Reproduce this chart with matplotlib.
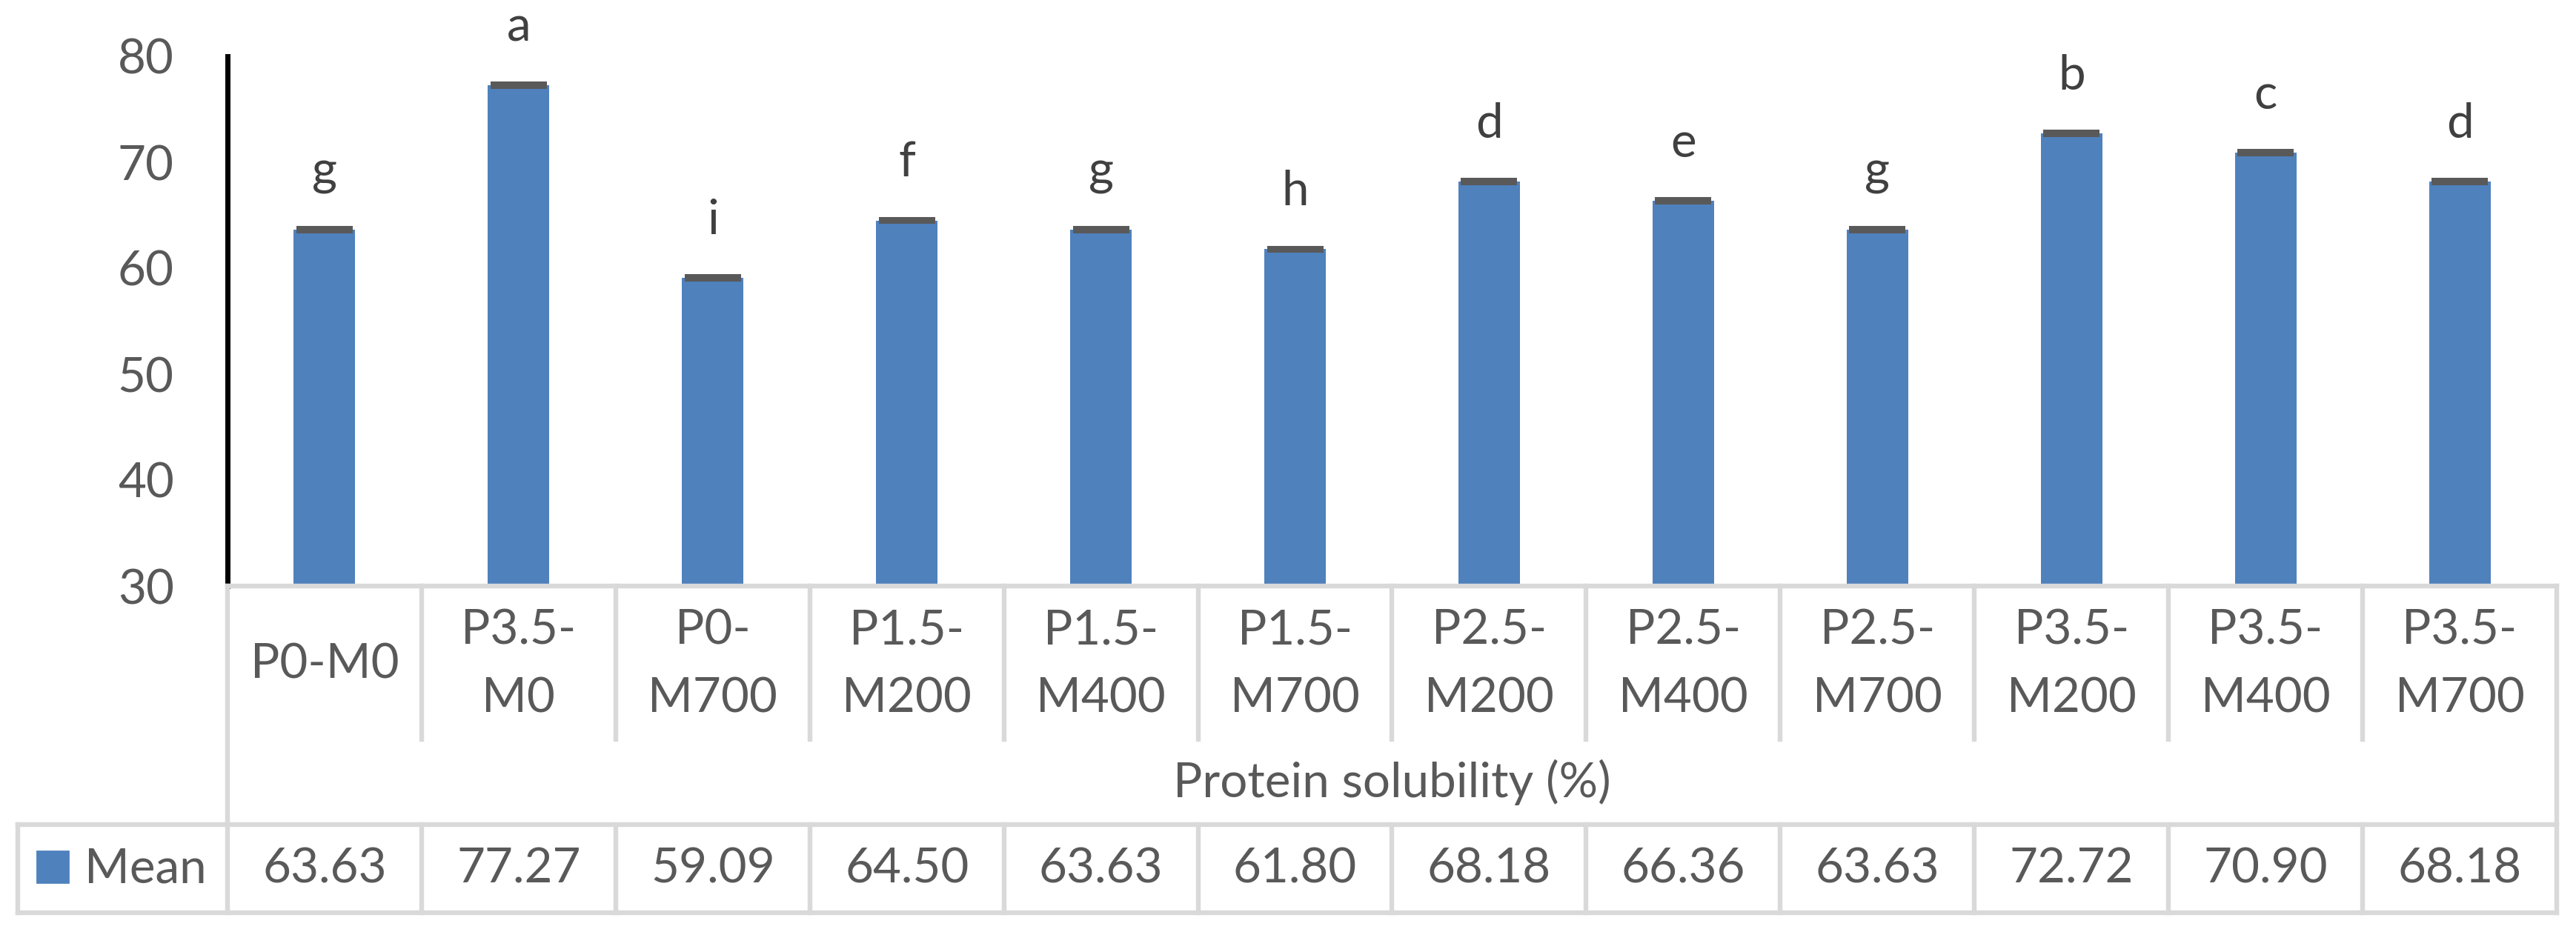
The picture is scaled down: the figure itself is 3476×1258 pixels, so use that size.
import matplotlib
matplotlib.use('Agg')
import matplotlib.pyplot as plt
import matplotlib.transforms as mtransforms
from matplotlib.lines import Line2D
from matplotlib.patches import Rectangle

plt.rcParams['font.family'] = ['Lato', 'DejaVu Sans']

# data
categories = ['P0-M0', 'P3.5-\nM0', 'P0-\nM700', 'P1.5-\nM200', 'P1.5-\nM400', 'P1.5-\nM700',
              'P2.5-\nM200', 'P2.5-\nM400', 'P2.5-\nM700', 'P3.5-\nM200', 'P3.5-\nM400', 'P3.5-\nM700']
means = [63.63, 77.27, 59.09, 64.50, 63.63, 61.80, 68.18, 66.36, 63.63, 72.72, 70.90, 68.18]
errors = [0.05, 0.05, 0.05, 0.05, 0.05, 0.05, 0.05, 0.05, 0.05, 0.05, 0.05, 0.05]
letters = ['g', 'a', 'i', 'f', 'g', 'h', 'd', 'e', 'g', 'b', 'c', 'd']
yticks = [30, 40, 50, 60, 70, 80]
series_name = 'Mean'
axis_title = 'Protein solubility (%)'

# styles
BAR = '#4F81BD'
TXT = '#595959'
LET = '#404040'
GRID = '#D9D9D9'
FS = 23.6
LW_GRID = 2.3

W, H = 3476, 1258
DPI = 200
fig = plt.figure(figsize=(W / DPI, H / DPI), dpi=DPI)


def fx(px):
    return px / W


def fy(py):
    return 1 - py / H


L, R = fx(307), fx(3450)
B, T = fy(791), fy(76)
ax = fig.add_axes([L, B, R - L, T - B])

x = list(range(len(means)))
ax.bar(x, means, width=0.317, color=BAR, zorder=2)
ax.errorbar(x, means, yerr=errors, fmt='none', ecolor=TXT, elinewidth=1,
            capsize=13.7, capthick=2.9, zorder=3)
for xi, m, l in zip(x, means, letters):
    ax.text(xi, m + 4.15, l, ha='center', va='baseline', fontsize=FS, color=LET)

ax.set_xlim(-0.5, len(means) - 0.5)
ax.set_ylim(30, 80)
ax.set_yticks(yticks)
ax.set_xticks([])
ax.tick_params(axis='y', length=0, pad=26, labelsize=FS, labelcolor=TXT)
for s in ['top', 'right', 'bottom']:
    ax.spines[s].set_visible(False)
ax.spines['left'].set_color('black')
ax.spines['left'].set_linewidth(2.5)

# data table below the plot
trans = mtransforms.blended_transform_factory(ax.transData, fig.transFigure)
n = len(means)
y_top, y_cat, y_mtop, y_mbot = fy(791), fy(998), fy(1113), fy(1232)


def gline(xs, ys, tr):
    fig.add_artist(Line2D(xs, ys, transform=tr, color=GRID, lw=LW_GRID,
                          solid_capstyle='projecting'))


gline([-0.5, n - 0.5], [y_top, y_top], trans)
for i in range(n + 1):
    xv = i - 0.5
    if i == 0 or i == n:
        gline([xv, xv], [y_top, y_mbot], trans)
    else:
        gline([xv, xv], [y_top, y_cat], trans)
        gline([xv, xv], [y_mtop, y_mbot], trans)
gline([fx(24), R], [y_mtop, y_mtop], fig.transFigure)
gline([fx(24), R], [y_mbot, y_mbot], fig.transFigure)
gline([fx(24), fx(24)], [y_mtop, y_mbot], fig.transFigure)

for i, c in enumerate(categories):
    ax.text(i, fy(897), c, transform=trans, ha='center', va='center',
            fontsize=FS, color=TXT, linespacing=1.67)

ax_x = mtransforms.blended_transform_factory(ax.transAxes, fig.transFigure)
ax.text(0.5, fy(1076), axis_title, transform=ax_x, ha='center', va='baseline',
        fontsize=FS, color=TXT)

for i, v in enumerate(means):
    ax.text(i, fy(1191), f'{v:.2f}', transform=trans, ha='center', va='baseline',
            fontsize=FS, color=TXT)

fig.add_artist(Rectangle((fx(50), fy(1191)), fx(42), 42 / H,
                         transform=fig.transFigure, color=BAR))
fig.text(fx(114), fy(1191), series_name, ha='left', va='baseline',
         fontsize=FS, color=TXT)

fig.savefig('out.png', dpi=DPI, facecolor='white')
